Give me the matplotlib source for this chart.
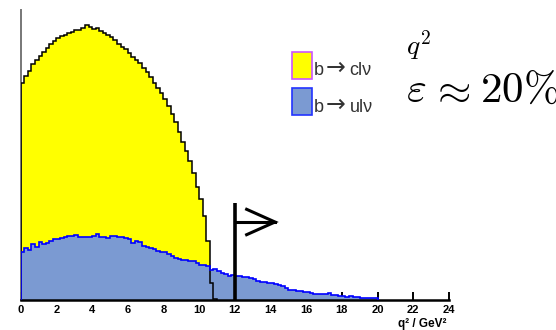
import numpy as np
import matplotlib
matplotlib.use("Agg")
import matplotlib.pyplot as plt
from matplotlib.patches import Rectangle

plt.rcParams['mathtext.fontset'] = 'cm'

# histogram binning, q^2 in GeV^2
bin_width = 0.2

# b -> c l nu (yellow), bins from 0 to 11
b_to_c = [217, 224, 229, 236, 240, 244, 248, 252, 256, 259,
          262, 264, 265, 267, 268, 270, 270, 272, 275, 273,
          271, 272, 269, 267, 265, 263, 260, 256, 253, 251,
          247, 243, 240, 237, 232, 228, 223, 217, 212, 207,
          201, 194, 186, 178, 168, 158, 149, 139, 127, 113,
          101, 84, 59, 17, 1]

# b -> u l nu (blue), bins from 0 to 20
b_to_u = [48, 52, 50, 56, 53, 58, 56, 57, 59, 61,
          61, 62, 63, 64, 64, 65, 63, 63, 63, 63,
          64, 66, 63, 63, 62, 64, 64, 63, 63, 62,
          61, 57, 59, 58, 54, 53, 52, 51, 49, 48,
          48, 46, 44, 42, 41, 40, 40, 39, 39, 37,
          35, 35, 34, 30, 31, 29, 27, 26, 24, 25,
          24, 24, 23, 23, 22, 21, 19, 18, 18, 17,
          17, 16, 15, 14, 12, 10, 10, 9, 9, 8,
          8, 7, 6, 6, 6, 6, 7, 5, 5, 4,
          4, 3, 4, 3, 3, 2, 2, 2, 2, 2]

x_ticks = [0, 2, 4, 6, 8, 10, 12, 14, 16, 18, 20, 22, 24]
cut_value = 12.0
legend_quarks = ['cl\u03bd', 'ul\u03bd']

edges_c = np.arange(len(b_to_c) + 1) * bin_width
edges_u = np.arange(len(b_to_u) + 1) * bin_width

W, H = 556, 330
fig = plt.figure(figsize=(W / 100, H / 100), dpi=100)
ax = fig.add_axes([20.7 / W, 30 / H, 428.3 / W, 290 / H])

yellow = '#ffff00'
blue_fill = '#7b9ad2'

ax.stairs(b_to_c, edges_c, fill=True, color=yellow, zorder=1)
ax.stairs(b_to_u, edges_u, fill=True, color=blue_fill, zorder=2)
ax.stairs(b_to_c, edges_c, color='black', lw=1.1, zorder=3)
ax.stairs(b_to_u, edges_u, color='#0000ff', lw=1.2, zorder=4)

# cut at q^2 > 12 with arrow
ax.plot([cut_value, cut_value], [0, 97], color='black', lw=2.6,
        solid_capstyle='butt', zorder=5)
ax.plot([cut_value, 14.25], [78, 78], color='black', lw=2.2, zorder=5)
ax.plot([12.66, 14.25, 12.66], [90.7, 78, 65.3], color='black', lw=2.2,
        solid_joinstyle='miter', zorder=5)

ax.set_xlim(0, 24)
ax.set_ylim(0, 290)
ax.spines['top'].set_visible(False)
ax.spines['right'].set_visible(False)
ax.spines['left'].set_color('#777777')
ax.spines['left'].set_linewidth(1.4)
ax.spines['bottom'].set_linewidth(1.8)
ax.set_yticks([])
ax.set_xticks(x_ticks)
ax.set_xticklabels([str(t) for t in x_ticks], fontfamily='Liberation Sans',
                   fontweight='bold', fontsize=8)
ax.tick_params(axis='x', direction='in', length=5.8, width=1.4, pad=3.5)
ax.patch.set_alpha(0)

fig.text(447 / W, 1 - 324 / H, 'q\u00b2 / GeV\u00b2', ha='right', va='center',
         fontfamily='Liberation Sans', fontweight='bold', fontsize=8.5)

# legend
boxes = [(52.3, yellow, '#cc55ff'), (88.3, blue_fill, '#2233ff')]
baselines = [75, 111.7]
for (top, fc, ec), lab, base in zip(boxes, legend_quarks, baselines):
    fig.patches.append(Rectangle((291.7 / W, 1 - (top + 26.7) / H), 20 / W, 26.7 / H,
                                 transform=fig.transFigure, facecolor=fc,
                                 edgecolor=ec, lw=1.2))
    fig.text(313.5 / W, 1 - base / H, 'b', ha='left', va='baseline',
             fontfamily='Liberation Sans', fontsize=13, color='#333333')
    fig.text(325.5 / W, 1 - base / H, '\u2192', ha='left', va='baseline',
             fontfamily='DejaVu Sans', fontsize=17, color='#333333')
    fig.text(349.5 / W, 1 - base / H, lab, ha='left', va='baseline',
             fontfamily='Liberation Sans', fontsize=13, color='#333333')

fig.text(406 / W, 1 - 55 / H, r'$q^2$', ha='left', va='baseline', fontsize=20)
fig.text(406 / W, 1 - 101.7 / H, r'$\varepsilon$', ha='left',
         va='baseline', fontsize=31)
fig.text(430 / W, 1 - 101.7 / H, r'$\approx$', ha='left',
         va='baseline', fontsize=31)
fig.text(480 / W, 1 - 101.7 / H, r'$20\%$', ha='left',
         va='baseline', fontsize=31)

fig.savefig('out.png', dpi=100)
